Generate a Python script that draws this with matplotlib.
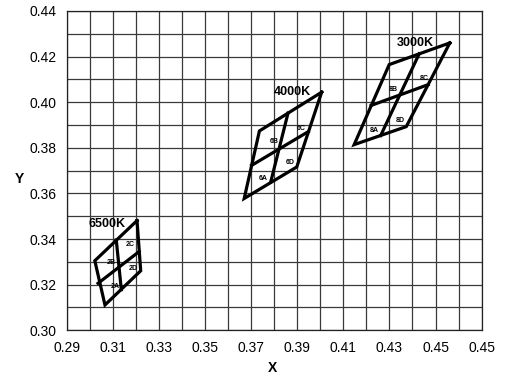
import numpy as np
import matplotlib
matplotlib.use('Agg')
import matplotlib.pyplot as plt

plt.rcParams['font.family'] = ['Liberation Sans Narrow', 'Liberation Sans', 'DejaVu Sans']

# x/y tick labels (last x label is printed as 0.45 in the original)
x_ticks = [0.29, 0.31, 0.33, 0.35, 0.37, 0.39, 0.41, 0.43, 0.45, 0.47]
x_tick_labels = ['0.29', '0.31', '0.33', '0.35', '0.37', '0.39', '0.41', '0.43', '0.45', '0.45']
y_ticks = [0.30, 0.32, 0.34, 0.36, 0.38, 0.40, 0.42, 0.44]
y_tick_labels = ['0.30', '0.32', '0.34', '0.36', '0.38', '0.40', '0.42', '0.44']

# CCT quadrangle outlines (x, y corners)
cct_names = ['6500K', '4000K', '3000K']
quad_x = [
    [0.3205, 0.3022, 0.3066, 0.3221],
    [0.4006, 0.3736, 0.3670, 0.3898],
    [0.4562, 0.4299, 0.4147, 0.4373],
]
quad_y = [
    [0.3481, 0.3305, 0.3111, 0.3261],
    [0.4044, 0.3874, 0.3578, 0.3716],
    [0.4260, 0.4165, 0.3814, 0.3893],
]
# dividing lines inside each quadrangle: [x0, y0, x1, y1]
split_a = [
    [0.3115, 0.3396, 0.3137, 0.3178],
    [0.3860, 0.3952, 0.3785, 0.3650],
    [0.4429, 0.4212, 0.4262, 0.3854],
]
split_b = [
    [0.3036, 0.3206, 0.3214, 0.3345],
    [0.3702, 0.3723, 0.3948, 0.3871],
    [0.4221, 0.3986, 0.4468, 0.4077],
]
# title positions
name_x = [0.3073, 0.3878, 0.4413]
name_y = [0.3465, 0.4043, 0.4258]

# sub-bin labels
bin_names = ['2A', '2B', '2C', '2D', '6A', '6B', '6C', '6D', '8A', '8B', '8C', '8D']
bin_x = [0.3110, 0.3092, 0.3175, 0.3189, 0.3753, 0.3799, 0.3919, 0.3868,
         0.4233, 0.4319, 0.4452, 0.4349]
bin_y = [0.3191, 0.3297, 0.3374, 0.3272, 0.3666, 0.3827, 0.3886, 0.3735,
         0.3874, 0.4057, 0.4102, 0.3919]

fig = plt.figure(figsize=(5.08, 3.75), dpi=100)
ax = fig.add_axes([0.1313, 0.1192, 0.8168, 0.8515])

ax.set_xlim(0.29, 0.47)
ax.set_ylim(0.30, 0.44)
ax.set_xticks(np.arange(0.29, 0.4705, 0.01), minor=True)
ax.set_yticks(np.arange(0.30, 0.4405, 0.01), minor=True)
ax.set_xticks(x_ticks)
ax.set_xticklabels(x_tick_labels)
ax.set_yticks(y_ticks)
ax.set_yticklabels(y_tick_labels)
ax.tick_params(which='both', length=0, labelsize=10)
ax.tick_params(axis='x', pad=8)
ax.tick_params(axis='y', pad=7)
ax.grid(True, which='both', color='#3a3a3a', linewidth=0.9)
ax.set_axisbelow(True)
for s in ax.spines.values():
    s.set_color('#222222')
    s.set_linewidth(0.9)

for i in range(len(cct_names)):
    xs = quad_x[i] + [quad_x[i][0]]
    ys = quad_y[i] + [quad_y[i][0]]
    ax.plot(xs, ys, color='black', lw=2.3, solid_joinstyle='miter')
    for seg in (split_a[i], split_b[i]):
        ax.plot([seg[0], seg[2]], [seg[1], seg[3]], color='black', lw=2.3)
    ax.text(name_x[i], name_y[i], cct_names[i], ha='center', va='center',
            fontsize=9, fontweight='bold')

for name, bx, by in zip(bin_names, bin_x, bin_y):
    ax.text(bx, by, name, ha='center', va='center', fontsize=5, fontweight='bold')

ax.set_xlabel('X', fontsize=10, fontweight='bold', va='center')
ax.set_ylabel('Y', fontsize=10, fontweight='bold', rotation=0, va='center', ha='center')
ax.xaxis.set_label_coords(0.497, -0.118)
ax.yaxis.set_label_coords(-0.115, 0.474)

fig.savefig('out.png', dpi=100)
